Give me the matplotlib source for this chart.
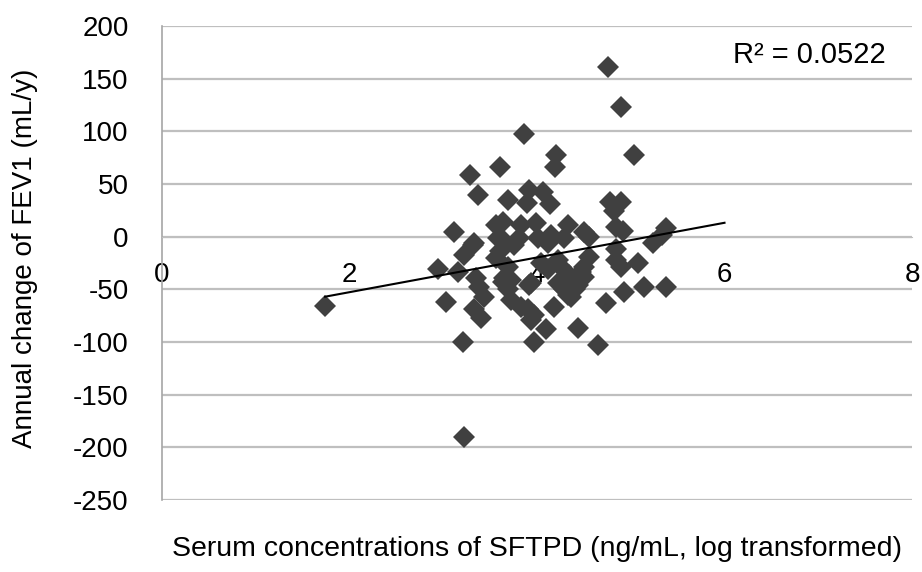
import matplotlib
matplotlib.use("Agg")
import matplotlib.pyplot as plt
import numpy as np

plt.rcParams['font.family'] = ['Liberation Sans', 'DejaVu Sans']
plt.rcParams['axes.unicode_minus'] = False

# serum SFTPD (log) vs annual change of FEV1
sftpd = [1.74, 4.76, 4.90, 3.86, 5.03, 4.20, 4.19, 3.28, 3.61, 3.37,
         3.69, 3.91, 3.89, 4.06, 4.14, 4.78, 4.90, 4.82, 3.11, 3.56,
         3.64, 3.83, 3.99, 4.33, 4.84, 4.92, 5.38, 5.33, 5.24, 4.55,
         3.33, 3.58, 3.65, 3.75, 3.81, 4.01, 4.12, 4.29, 4.50, 4.84,
         4.84, 4.90, 5.08, 5.14, 5.38, 4.93, 4.74, 4.50, 4.50, 4.26,
         4.34, 4.33, 4.40, 4.47, 4.04, 3.32, 3.22, 3.56, 3.69, 3.65,
         2.94, 3.16, 3.35, 3.38, 3.43, 3.03, 3.94, 4.12, 4.22, 4.22,
         4.15, 3.21, 3.22, 3.33, 3.40, 3.61, 3.72, 3.69, 3.72, 3.83,
         3.90, 3.97, 3.94, 4.10, 3.97, 4.18, 4.29, 4.36, 4.44, 4.65,
         4.55, 4.33, 4.44, 4.29, 3.64, 3.91]
fev1 = [-66, 161, 123, 97, 78, 78, 66, 59, 66, 40,
        35, 44, 32, 42, 31, 33, 33, 24, 4, 11,
        14, 11, 13, 11, 9, 5, 8, 2, -6, 0,
        -6, -1, -4, -8, -1, -1, -6, -1, 4, -12,
        -22, -29, -25, -48, -48, -53, -63, -29, -38, -29,
        -36, -46, -50, -34, -25, -8, -17, -20, -29, -39,
        -31, -34, -39, -48, -57, -62, -44, -31, -22, -44,
        2, -100, -190, -69, -77, -14, -41, -50, -60, -67,
        -69, -74, -79, -88, -100, -67, -50, -57, -87, -103,
        -19, -55, -46, -44, -43, -46]

x_ticks = [0, 2, 4, 6, 8]
y_ticks = [200, 150, 100, 50, 0, -50, -100, -150, -200, -250]
r2_text = "R² = 0.0522"
trend_end = 6.0

x = np.array(sftpd)
y = np.array(fev1)

fig = plt.figure(figsize=(9.22, 5.72), dpi=100)
ax = fig.add_axes([162 / 922, 72 / 572, 750 / 922, 474 / 572])

for v in y_ticks:
    ax.axhline(v, color='#bfbfbf', lw=1.6, zorder=0)

ax.plot(x, y, linestyle='none', marker='D', markersize=11.5,
        color='#404040', markeredgewidth=0, zorder=3)

slope, intercept = np.polyfit(x, y, 1)
xs = np.array([x.min(), trend_end])
ax.plot(xs, slope * xs + intercept, color='black', lw=1.5, zorder=4)

ax.set_xlim(0, 8)
ax.set_ylim(-250, 200)
ax.set_xticks(x_ticks)
ax.set_yticks(y_ticks)

ax.spines['top'].set_visible(False)
ax.spines['right'].set_visible(False)
ax.spines['bottom'].set_position(('data', 0))
ax.spines['bottom'].set_color('#bfbfbf')
ax.spines['left'].set_color('#a6a6a6')
ax.spines['left'].set_linewidth(1.2)
ax.tick_params(axis='both', length=0, labelsize=20, colors='black')
ax.tick_params(axis='x', pad=18)
ax.tick_params(axis='y', pad=24)

ax.set_xlabel("Serum concentrations of SFTPD (ng/mL, log transformed)", fontsize=20.5)
ax.xaxis.set_label_coords(0.5, -0.076)
ax.set_ylabel("Annual change of FEV1 (mL/y)", fontsize=20)
ax.yaxis.set_label_coords(-0.165, 0.51)

ax.text(0.965, 0.939, r2_text, transform=ax.transAxes, fontsize=21,
        ha='right', va='center')

fig.savefig("out.png", dpi=100)
